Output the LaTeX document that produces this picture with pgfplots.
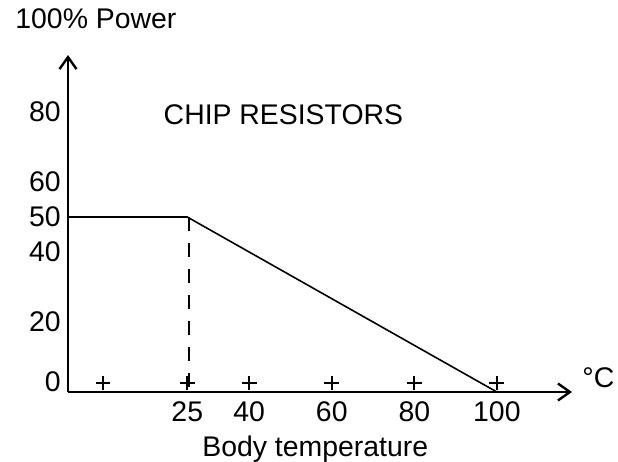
\documentclass[border=0pt]{standalone}
\usepackage{pgfplots}
\pgfplotsset{compat=1.18}
\usepackage{fontspec}
\setmainfont{Liberation Sans}
\usetikzlibrary{arrows.meta}
\begin{document}
\begin{tikzpicture}[font=\fontsize{14.2}{16}\selectfont]
\useasboundingbox (0,0) rectangle (309pt,231pt);
\begin{axis}[
  at={(34pt,35pt)}, anchor=south west,
  scale only axis, width=252pt, height=168.5pt,
  xmin=-3.9, xmax=118.2, ymin=0, ymax=96.3,
  enlargelimits=false,
  axis lines=left,
  axis line style={line width=1.25pt, -{Straight Barb[length=6pt,width=8.5pt,line width=1.2pt]}},
  xtick={25,40,60,80,100},
  ytick={20,40,50,60,80},
  extra y ticks={0},
  extra y tick style={yticklabel style={yshift=5pt}},
  major tick length=0pt,
  tick style={draw=none},
  ticklabel style={font=\fontsize{14.2}{16}\selectfont, text=black},
  /pgf/number format/assume math mode=true,
  yticklabel style={inner sep=3.5pt},
  xticklabel style={inner sep=4.5pt},
  clip=false,
]
\addplot[black, line width=0.8pt] coordinates {(-3.9,50) (25,50) (100,0)};
\addplot[black, line width=0.65pt, dash pattern=on 7pt off 6pt] coordinates {(25.4,50) (25.4,0)};
\addplot[black, only marks, mark=+, mark size=3.7pt, mark options={line width=1.1pt}] coordinates {(4.6,2.6) (25,2.6) (40,2.6) (60,2.6) (80,2.6) (100,2.6)};
\node[anchor=base west, inner sep=0pt] at (axis cs:19.2,76.5) {CHIP RESISTORS};
\end{axis}
\node[anchor=base west, inner sep=0pt] at (7.5pt,217pt) {100\% Power};
\node[anchor=base west, inner sep=0pt] at (101pt,2.5pt) {Body temperature};
\node[anchor=base west, inner sep=0pt] at (291pt,37.5pt) {°C};
\end{tikzpicture}
\end{document}
